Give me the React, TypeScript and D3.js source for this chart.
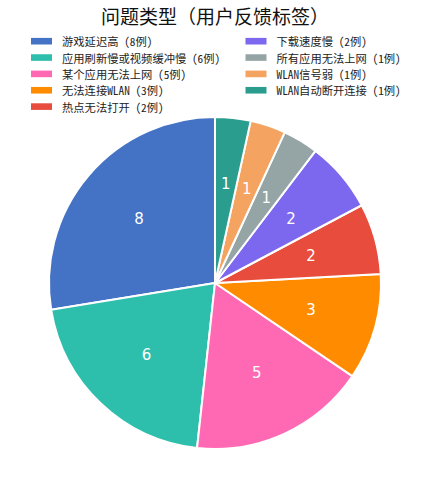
import { useRef, useEffect } from "react";
import * as d3 from "d3";

const categories = [
  "游戏延迟高",
  "应用刷新慢或视频缓冲慢",
  "某个应用无法上网",
  "无法连接WLAN",
  "热点无法打开",
  "下载速度慢",
  "所有应用无法上网",
  "WLAN信号弱",
  "WLAN自动断开连接",
];
const counts = [8, 6, 5, 3, 2, 2, 1, 1, 1];
const colors = [
  "#4472C4",
  "#2EBFAC",
  "#FF69B4",
  "#FF8C00",
  "#E74C3C",
  "#7B68EE",
  "#95A5A6",
  "#F4A460",
  "#2A9D8F",
];
const title = "问题类型（用户反馈标签）";

const cjkFont = "'Noto Sans Mono CJK SC', 'Noto Sans CJK SC', monospace";

const PieChart = () => {
  const ref = useRef<HTMLDivElement | null>(null);

  useEffect(() => {
    if (ref.current === null) return;
    const width = 431;
    const height = 500;
    const cx = 215;
    const cy = 283;
    const radius = 166;

    d3.select(ref.current).select("svg").remove();
    const svg = d3
      .select(ref.current)
      .append("svg")
      .attr("width", width)
      .attr("height", height)
      .style("display", "block")
      .style("background", "#fff");

    // title
    svg
      .append("text")
      .attr("x", cx)
      .attr("y", 15)
      .attr("text-anchor", "middle")
      .attr("dominant-baseline", "central")
      .attr("font-family", cjkFont)
      .attr("font-size", 19)
      .attr("fill", "#111")
      .text(title);

    // legend, two columns, filled column by column
    const rows = 5;
    const legend = svg.append("g").attr("font-family", cjkFont);
    categories.forEach((name, i) => {
      const col = Math.floor(i / rows);
      const row = i % rows;
      const g = legend
        .append("g")
        .attr("transform", `translate(${col === 0 ? 31 : 245.5},${41.2 + row * 16.35})`);
      g.append("rect")
        .attr("x", 0)
        .attr("y", -3.3)
        .attr("width", 21)
        .attr("height", 6.6)
        .attr("fill", colors[i]);
      g.append("text")
        .attr("x", 31)
        .attr("y", 0)
        .attr("dominant-baseline", "central")
        .attr("font-size", 11.3)
        .attr("fill", "#222")
        .text(`${name} (${counts[i]}例)`);
    });

    // pie, counter-clockwise from 12 o'clock
    const pie = d3
      .pie<number>()
      .sort(null)
      .startAngle(0)
      .endAngle(-2 * Math.PI);
    const arcs = pie(counts);
    const arc = d3.arc<d3.PieArcDatum<number>>().innerRadius(0).outerRadius(radius);
    const labelArc = d3
      .arc<d3.PieArcDatum<number>>()
      .innerRadius(radius * 0.6)
      .outerRadius(radius * 0.6);

    const g = svg.append("g").attr("transform", `translate(${cx},${cy})`);
    g.selectAll("path")
      .data(arcs)
      .enter()
      .append("path")
      .attr("d", arc)
      .attr("fill", (_, i) => colors[i])
      .attr("stroke", "#fff")
      .attr("stroke-width", 2)
      .attr("stroke-linejoin", "round");

    g.selectAll("text")
      .data(arcs)
      .enter()
      .append("text")
      .attr("transform", (d) => `translate(${labelArc.centroid(d)})`)
      .attr("text-anchor", "middle")
      .attr("dominant-baseline", "central")
      .attr("font-family", "'DejaVu Sans', sans-serif")
      .attr("font-size", 15)
      .attr("fill", "#fff")
      .text((d) => String(d.data));
  }, []);

  return <div ref={ref} style={{ position: "absolute", left: 0, top: 0 }} />;
};

export default function App() {
  return <PieChart />;
}
